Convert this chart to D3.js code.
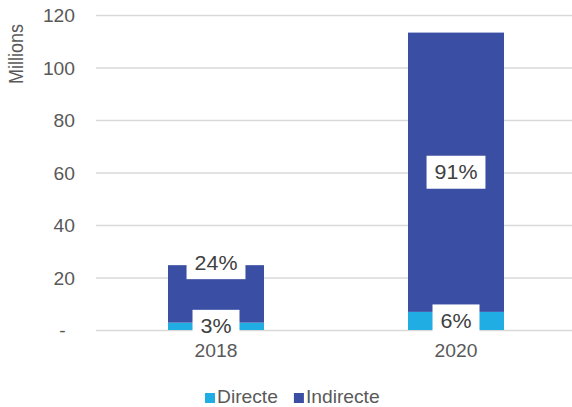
<!DOCTYPE html>
<html>
<head>
<meta charset="utf-8">
<script src="https://cdn.jsdelivr.net/npm/d3@7"></script>
<style>
  html, body { margin: 0; padding: 0; background: #fff; }
  svg { display: block; font-family: "Liberation Sans", Arial, sans-serif; }
</style>
</head>
<body>
<svg id="chart" width="572" height="407"></svg>
<script>
// Values in millions
const years = ["2018", "2020"];
const directe = [2.8, 6.9];
const indirecte = [21.9, 106.4];
const directeLabels = ["3%", "6%"];
const indirecteLabels = ["24%", "91%"];
const seriesNames = ["Directe", "Indirecte"];
const seriesColors = ["#1fade3", "#3a4fa3"];
const yTicks = [0, 20, 40, 60, 80, 100, 120];
const yTickLabels = ["-", "20", "40", "60", "80", "100", "120"];
const axisTitle = "Millions";

// Text is drawn slightly widened horizontally
const SX = 1.1;
const textColor = "#595959";
const labelColor = "#404040";

const svg = d3.select("#chart");
const plot = { left: 96, right: 576, top: 15, bottom: 330 };

const x = d3.scaleBand()
  .domain(years)
  .range([plot.left, plot.right])
  .paddingInner(0.6)
  .paddingOuter(0.3);

const y = d3.scaleLinear()
  .domain([0, 120])
  .range([plot.bottom, plot.top]);

// Y axis with full-width gridlines
const yAxis = svg.append("g")
  .attr("transform", `translate(${plot.left},0)`)
  .call(d3.axisLeft(y)
    .tickValues(yTicks)
    .tickFormat((d, i) => yTickLabels[i])
    .tickSize(-(plot.right - plot.left))
    .tickPadding(19.1));
yAxis.select(".domain").remove();
yAxis.selectAll(".tick line")
  .attr("stroke", "#d9d9d9")
  .attr("stroke-width", 1.5);
yAxis.selectAll(".tick text")
  .attr("fill", textColor)
  .attr("font-size", 17.5)
  .attr("dy", "0.38em")
  .attr("dx", d => d === 0 ? -8.6 : 0)
  .attr("transform", `scale(${SX},1)`);

// Axis title
svg.append("text")
  .attr("transform", `translate(23,54) scale(${SX},1) rotate(-90)`)
  .attr("text-anchor", "middle")
  .attr("font-size", 18)
  .attr("fill", textColor)
  .text(axisTitle);

// Stacked bars
const rows = years.map((yr, i) => ({ year: yr, Directe: directe[i], Indirecte: indirecte[i] }));
const stacked = d3.stack().keys(seriesNames)(rows);

svg.append("g").selectAll("g")
  .data(stacked)
  .join("g")
  .attr("fill", (d, i) => seriesColors[i])
  .selectAll("rect")
  .data(d => d)
  .join("rect")
  .attr("x", d => x(d.data.year))
  .attr("width", x.bandwidth())
  .attr("y", d => y(d[1]))
  .attr("height", d => y(d[0]) - y(d[1]));

// X axis labels
const xAxis = svg.append("g")
  .attr("transform", `translate(0,${plot.bottom})`)
  .call(d3.axisBottom(x).tickSize(0).tickPadding(14.6));
xAxis.select(".domain").remove();
xAxis.selectAll(".tick text")
  .attr("fill", textColor)
  .attr("font-size", 17.5)
  .attr("transform", `scale(${SX},1)`);

// Data labels in white boxes
const labelSets = [directeLabels, indirecteLabels];
const boxH = 33;
const labelLayer = svg.append("g");
const placed = years.map(() => []);

stacked.forEach((layer, si) => {
  layer.forEach((seg, i) => {
    const top = y(seg[1]);
    const bottom = y(seg[0]);
    let cy = (top + bottom) / 2;
    // keep clear of the label already placed lower in the same bar
    const below = placed[i][placed[i].length - 1];
    if (below !== undefined && cy + boxH / 2 > below - boxH / 2 - 4) {
      cy = top - 2.5;
    }
    placed[i].push(cy);
    const cx = x(seg.data.year) + x.bandwidth() / 2;
    const g = labelLayer.append("g").attr("transform", `translate(${cx},${cy})`);
    const rect = g.append("rect").attr("fill", "#fff");
    const t = g.append("text")
      .attr("transform", `scale(${SX},1)`)
      .attr("text-anchor", "middle")
      .attr("y", 7)
      .attr("font-size", 19.5)
      .attr("fill", labelColor)
      .text(labelSets[si][i]);
    const w = t.node().getComputedTextLength() * SX + 16;
    rect.attr("x", -w / 2).attr("y", -boxH / 2).attr("width", w).attr("height", boxH);
  });
});

// Legend
const legend = svg.append("g");
let lx = 205;
seriesNames.forEach((name, i) => {
  legend.append("rect")
    .attr("x", lx).attr("y", 393)
    .attr("width", 10).attr("height", 10)
    .attr("fill", seriesColors[i]);
  const t = legend.append("text")
    .attr("transform", `translate(${lx + 12},403) scale(${SX},1)`)
    .attr("font-size", 17.5)
    .attr("fill", textColor)
    .text(name);
  lx += 12 + t.node().getComputedTextLength() * SX + 16;
});
</script>
</body>
</html>
